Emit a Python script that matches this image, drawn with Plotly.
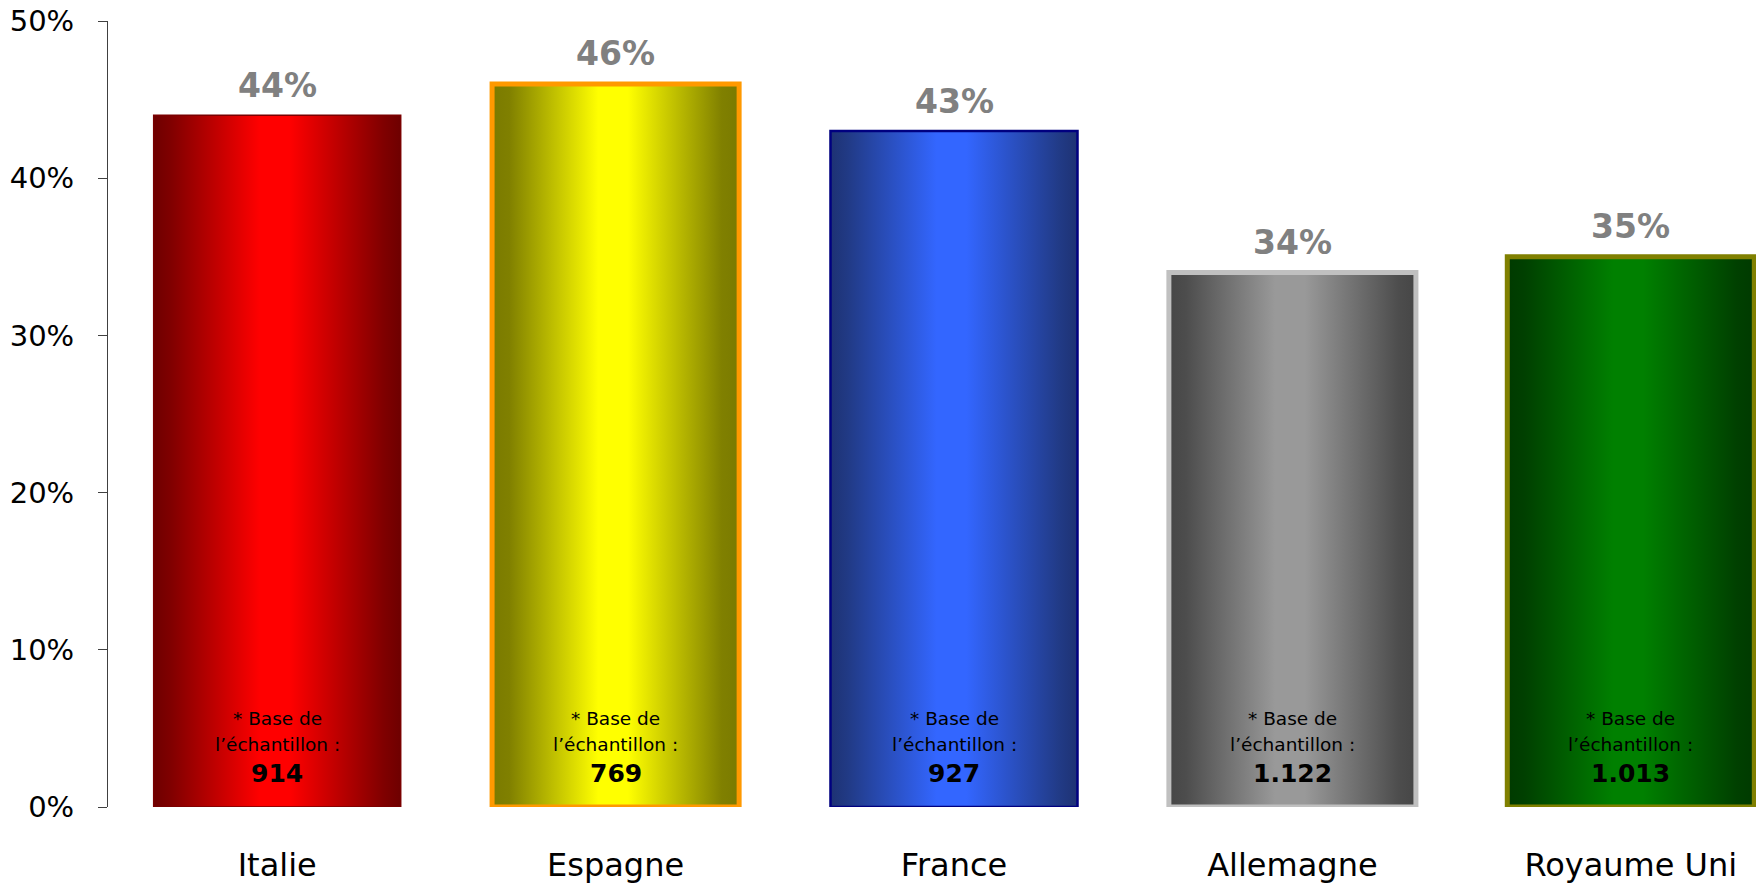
import plotly.graph_objects as go

# ---- data ----
categories = ["Italie", "Espagne", "France", "Allemagne", "Royaume Uni"]
values = [44, 46, 43, 34, 35]
sample_sizes = ["914", "769", "927", "1.122", "1.013"]
base_line1 = "* Base de"
base_line2 = "l\u2019\u00e9chantillon :"

# ---- styles ----
edge_colors = ["#6E0000", "#7A7A00", "#1E3273", "#464646", "#003A00"]
mid_edge_colors = ["#800000", "#808000", "#213A85", "#4D4D4D", "#004000"]
center_colors = ["#FF0000", "#FFFF00", "#3366FF", "#999999", "#008000"]
border_colors = ["#7A0000", "#FF9900", "#000080", "#C0C0C0", "#808000"]
border_widths = [1.5, 5, 2.5, 5, 5]
half_width = 0.365
FONT = "DejaVu Sans"

fig = go.Figure()
for i, (cat, v) in enumerate(zip(categories, values)):
    xs = [i - half_width, i + half_width, i + half_width, i - half_width, i - half_width]
    ys = [0, 0, v, v, 0]
    fig.add_trace(go.Scatter(
        x=xs, y=ys, mode="lines", fill="toself",
        fillgradient=dict(
            type="horizontal",
            colorscale=[[0, edge_colors[i]], [0.07, mid_edge_colors[i]],
                        [0.43, center_colors[i]], [0.55, center_colors[i]],
                        [0.93, mid_edge_colors[i]], [1, edge_colors[i]]],
        ),
        line=dict(color=border_colors[i], width=border_widths[i]),
        hoverinfo="skip", showlegend=False, name=cat,
    ))
    # value label above bar
    fig.add_annotation(x=i, y=v, text=f"<b>{v}%</b>", showarrow=False,
                       yanchor="middle", yshift=30,
                       font=dict(family=FONT, size=33, color="#808080"))
    # sample base text inside bar
    fig.add_annotation(x=i, y=0, text=base_line1, showarrow=False,
                       yanchor="middle", yshift=89,
                       font=dict(family=FONT, size=18.5, color="#000000"))
    fig.add_annotation(x=i, y=0, text=base_line2, showarrow=False,
                       yanchor="middle", yshift=63,
                       font=dict(family=FONT, size=18.5, color="#000000"))
    fig.add_annotation(x=i, y=0, text=f"<b>{sample_sizes[i]}</b>", showarrow=False,
                       yanchor="middle", yshift=34,
                       font=dict(family=FONT, size=25, color="#000000"))

fig.update_layout(
    width=1756, height=886,
    margin=dict(l=108, r=0, t=21, b=79),
    paper_bgcolor="white", plot_bgcolor="white",
    font=dict(family=FONT, color="#000000"),
    xaxis=dict(
        range=[-0.5, 4.37], tickmode="array",
        tickvals=list(range(len(categories))), ticktext=categories,
        showgrid=False, zeroline=False, showline=False, ticks="",
        tickfont=dict(family=FONT, size=32, color="#000000"),
        ticklabelstandoff=36, automargin=False, fixedrange=True,
        ticklabeloverflow="allow",
    ),
    yaxis=dict(
        range=[0, 50], dtick=10, ticksuffix="%",
        showgrid=False, zeroline=False, showline=True,
        linecolor="#404040", linewidth=1,
        ticks="outside", ticklen=9, tickcolor="#404040", tickwidth=1,
        tickfont=dict(family=FONT, size=29, color="#000000"),
        ticklabelstandoff=18, automargin=False, fixedrange=True,
        ticklabeloverflow="allow",
    ),
)

fig.write_html(
    "out.html",
    config={"displayModeBar": False, "staticPlot": True},
    post_script="document.body.style.margin='0';document.body.style.overflow='hidden';",
)
